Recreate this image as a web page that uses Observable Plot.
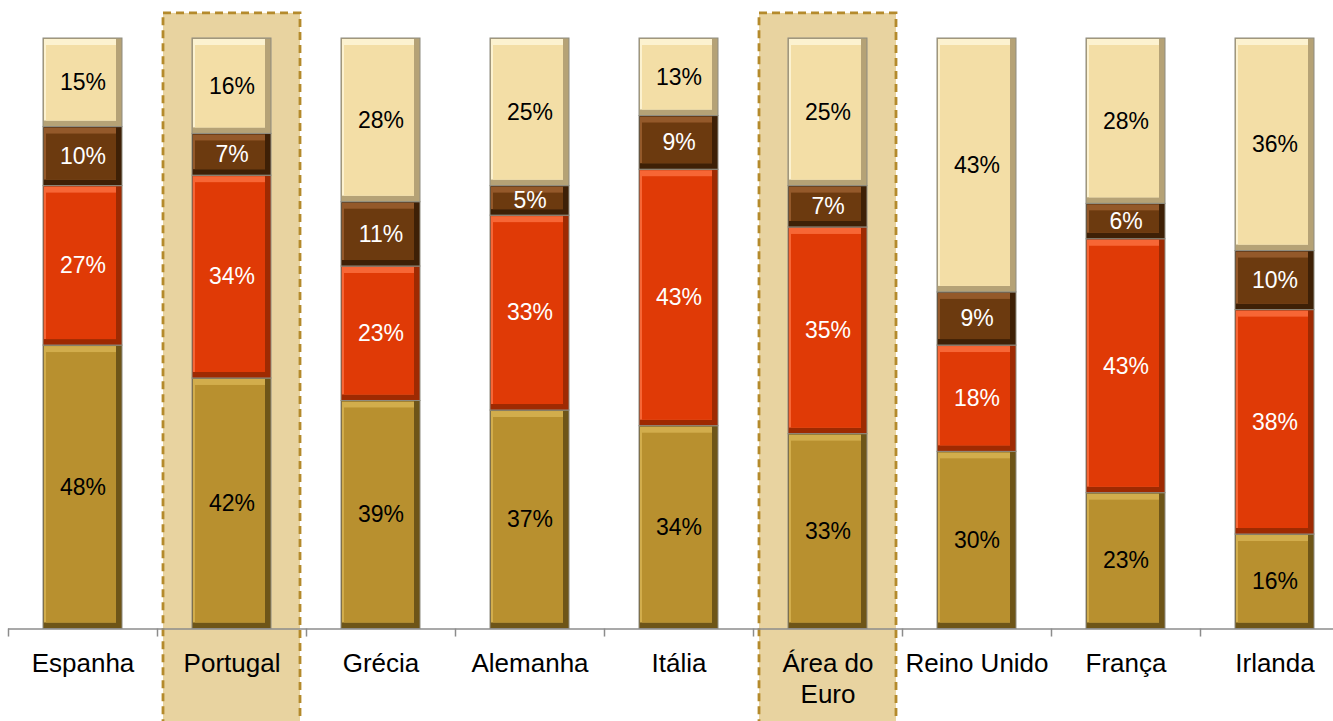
<!DOCTYPE html>
<html><head><meta charset="utf-8">
<script src="https://cdn.jsdelivr.net/npm/d3@7"></script>
<script src="https://cdn.jsdelivr.net/npm/@observablehq/plot@0.6"></script>
<style>body{margin:0;background:#fff} svg{display:block;overflow:hidden}</style>
</head><body><div id="chart"></div>
<script>
const countries = ["Espanha","Portugal","Grécia","Alemanha","Itália","Área do Euro","Reino Unido","França","Irlanda"];
const seriesNames = ["Componente 1","Componente 2","Componente 3","Componente 4"];
const values1 = [48,42,39,37,34,33,30,23,16];
const values2 = [27,34,23,33,43,35,18,43,38];
const values3 = [10,7,11,5,9,7,9,6,10];
const values4 = [15,16,28,25,13,25,43,28,36];
const highlighted = ["Portugal","Área do Euro"];
const tickLabels = countries.map(c => c === "Área do Euro" ? "Área do\nEuro" : c);

const allValues = [values1, values2, values3, values4];
const data = [];
seriesNames.forEach((s, i) => countries.forEach((c, j) => data.push({country: c, series: s, value: allValues[i][j]})));

const face  = {"Componente 1":"#B8902F","Componente 2":"#E03A06","Componente 3":"#6C3A0F","Componente 4":"#F3DEA6"};
const light = {"Componente 1":"#D2AD4C","Componente 2":"#F76635","Componente 3":"#94592A","Componente 4":"#FCF2D0"};
const dark  = {"Componente 1":"#6E5518","Componente 2":"#9E2A02","Componente 3":"#3E2006","Componente 4":"#B5A276"};
const textColor = {"Componente 1":"#000","Componente 2":"#fff","Componente 3":"#fff","Componente 4":"#000"};

const stackOpts = {x: "country", y: "value", z: "series", order: seriesNames, offset: "normalize"};
const font = "Liberation Sans, Arial, sans-serif";

const chart = Plot.plot({
  width: 1333, height: 721,
  marginLeft: 8, marginRight: 0, marginTop: 0, marginBottom: 93,
  style: {fontFamily: font, background: "#fff"},
  x: {domain: countries, range: [8, 1349], paddingInner: 0.47, paddingOuter: 0.235, axis: null},
  y: {domain: [0, 1], range: [628.5, 38], axis: null},
  color: {type: "identity"},
  marks: [
    Plot.barY(highlighted, {x: d => d, y1: -0.2, y2: 1.0425, fill: "#E8D3A0", stroke: "#B48A2C",
      strokeWidth: 2.8, strokeDasharray: "8,5", insetLeft: -29, insetRight: -29}),
    Plot.barY(data, {...stackOpts, fill: d => dark[d.series], stroke: "#8E8C80", strokeWidth: 1}),
    Plot.barY(data, {...stackOpts, fill: d => light[d.series], insetRight: 6, insetBottom: 6, insetLeft: 1, insetTop: 1}),
    Plot.barY(data, {...stackOpts, fill: d => face[d.series], insetLeft: 3, insetRight: 6, insetTop: 7, insetBottom: 6}),
    Plot.text(data, Plot.stackY({...stackOpts, text: d => d.value + "%", fill: d => textColor[d.series], fontSize: 23})),
    Plot.ruleY([0], {stroke: "#8C8C8C", strokeWidth: 1.5}),
    Plot.ruleX(countries, {x: d => d, y1: 0, y2: -0.0136, dx: -74.5, stroke: "#8C8C8C", strokeWidth: 1.5}),
    Plot.text(countries, {x: d => d, y: 0, text: (d, i) => tickLabels[i], dy: 20.5, lineAnchor: "top",
      fontSize: 26, lineHeight: 1.2, fill: "#000"})
  ]
});
document.getElementById("chart").appendChild(chart);
</script>
</body></html>
